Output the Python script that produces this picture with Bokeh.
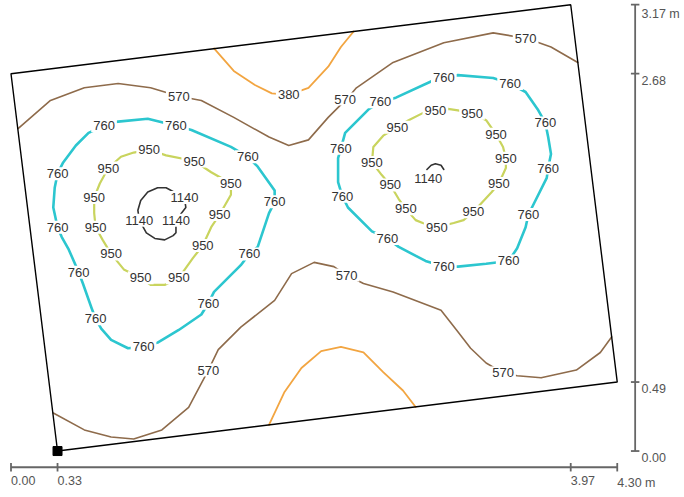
from bokeh.plotting import figure
from bokeh.models import Range1d, ColumnDataSource
from bokeh.embed import file_html
from bokeh.resources import INLINE
from bokeh.core.properties import value

# ---------------- data (metres) ----------------
room_x = [0.33, 4.30, 3.97, 0.00]
room_y = [0.00, 0.49, 3.17, 2.68]

x_ticks = [0.00, 0.33, 3.97, 4.30]
x_tick_labels = ["0.00", "0.33", "3.97", "4.30 m"]
y_ticks = [0.00, 0.49, 2.68, 3.17]
y_tick_labels = ["0.00", "0.49", "2.68", "3.17 m"]

# 380 isoline (two pieces)
c380a_x = [1.44, 1.58, 1.73, 1.85, 1.97, 2.11, 2.25, 2.34, 2.43]
c380a_y = [2.86, 2.70, 2.60, 2.54, 2.53, 2.58, 2.73, 2.87, 2.98]
c380b_x = [1.83, 1.94, 2.06, 2.20, 2.34, 2.50, 2.64, 2.78, 2.87]
c380b_y = [0.185, 0.42, 0.59, 0.71, 0.74, 0.70, 0.56, 0.43, 0.313]
lab380_x = [1.97]
lab380_y = [2.53]

# 570 isoline (two pieces)
c570a_x = [0.05, 0.28, 0.52, 0.76, 0.99, 1.19, 1.35, 1.58, 1.83, 1.97, 2.11, 2.25,
           2.39, 2.45, 2.71, 3.07, 3.42, 3.66, 3.83, 4.02]
c570a_y = [2.29, 2.49, 2.58, 2.61, 2.58, 2.52, 2.49, 2.37, 2.23, 2.17, 2.21, 2.37,
           2.51, 2.58, 2.76, 2.90, 2.97, 2.93, 2.87, 2.76]
c570b_x = [0.30, 0.52, 0.71, 0.87, 1.07, 1.26, 1.35, 1.40, 1.47, 1.63, 1.87, 1.99, 2.15,
           2.29, 2.38, 2.50, 2.71, 3.05, 3.16, 3.26, 3.37, 3.49, 3.59, 3.76, 4.01, 4.18, 4.26]
c570b_y = [0.27, 0.15, 0.10, 0.085, 0.15, 0.31, 0.48, 0.575, 0.72, 0.88, 1.07, 1.26, 1.34,
           1.31, 1.25, 1.19, 1.13, 1.00, 0.86, 0.73, 0.625, 0.555, 0.535, 0.52, 0.575, 0.70, 0.81]
lab570_x = [1.19, 2.37, 3.65, 1.40, 2.38, 3.49]
lab570_y = [2.52, 2.50, 2.93, 0.575, 1.25, 0.555]

# 760 isoline (two loops)
c760a_x = [0.66, 0.76, 0.97, 1.17, 1.28, 1.56, 1.68, 1.75, 1.87, 1.87, 1.83, 1.75, 1.69,
           1.63, 1.44, 1.40, 1.35, 1.19, 1.04, 0.94, 0.83, 0.71, 0.64, 0.60, 0.57, 0.51,
           0.48, 0.41, 0.36, 0.33, 0.30, 0.31, 0.33, 0.37, 0.46, 0.55, 0.66]
c760a_y = [2.31, 2.34, 2.36, 2.31, 2.28, 2.16, 2.09, 2.02, 1.85, 1.77, 1.69, 1.45, 1.40,
           1.32, 1.13, 1.05, 0.97, 0.86, 0.77, 0.74, 0.73, 0.79, 0.87, 0.94, 1.02, 1.19,
           1.27, 1.43, 1.52, 1.59, 1.73, 1.87, 1.97, 2.05, 2.17, 2.26, 2.31]
c760b_x = [2.62, 2.73, 2.99, 3.07, 3.17, 3.42, 3.54, 3.65, 3.74, 3.79, 3.81, 3.83, 3.81,
           3.80, 3.71, 3.67, 3.65, 3.59, 3.53, 3.37, 3.17, 3.07, 2.94, 2.75, 2.67, 2.56,
           2.39, 2.35, 2.32, 2.32, 2.34, 2.37, 2.54, 2.62]
c760b_y = [2.48, 2.51, 2.63, 2.65, 2.67, 2.65, 2.61, 2.55, 2.42, 2.33, 2.23, 2.11, 2.01,
           1.94, 1.76, 1.68, 1.59, 1.44, 1.35, 1.33, 1.31, 1.31, 1.35, 1.45, 1.51, 1.56,
           1.73, 1.81, 1.91, 2.08, 2.15, 2.26, 2.43, 2.48]
lab760_x = [0.66, 1.17, 1.68, 1.87, 1.69, 1.40, 0.94, 0.60, 0.48, 0.33, 0.33,
            2.62, 3.07, 3.54, 3.79, 3.81, 3.67, 3.53, 3.07, 2.67, 2.35, 2.34]
lab760_y = [2.31, 2.31, 2.09, 1.77, 1.40, 1.05, 0.74, 0.94, 1.27, 1.59, 1.97,
            2.48, 2.65, 2.61, 2.33, 2.01, 1.68, 1.35, 1.31, 1.51, 1.81, 2.15]

# 950 isoline (two loops)
c950a_x = [0.98, 1.10, 1.30, 1.42, 1.56, 1.56, 1.48, 1.42, 1.36, 1.29, 1.19, 1.09, 0.99,
           0.92, 0.80, 0.71, 0.65, 0.60, 0.59, 0.59, 0.63, 0.69, 0.78, 0.87, 0.98]
c950a_y = [2.14, 2.10, 2.06, 1.98, 1.90, 1.82, 1.68, 1.59, 1.46, 1.37, 1.23, 1.18, 1.18,
           1.23, 1.29, 1.40, 1.50, 1.59, 1.69, 1.80, 1.90, 2.01, 2.09, 2.12, 2.14]
c950b_x = [2.74, 2.82, 2.92, 3.01, 3.10, 3.17, 3.27, 3.37, 3.44, 3.49, 3.51, 3.51, 3.46,
           3.41, 3.28, 3.21, 3.14, 3.02, 2.92, 2.87, 2.80, 2.75, 2.69, 2.63, 2.56, 2.57,
           2.64, 2.74]
c950b_y = [2.30, 2.35, 2.40, 2.42, 2.43, 2.42, 2.40, 2.35, 2.25, 2.16, 2.08, 2.01, 1.90,
           1.84, 1.70, 1.64, 1.62, 1.59, 1.62, 1.64, 1.72, 1.79, 1.89, 1.96, 2.05, 2.16,
           2.24, 2.30]
lab950_x = [0.98, 1.30, 1.56, 1.48, 1.36, 1.19, 0.92, 0.71, 0.60, 0.59, 0.69,
            3.01, 3.27, 3.44, 3.51, 3.46, 3.28, 3.02, 2.80, 2.69, 2.56, 2.74]
lab950_y = [2.14, 2.06, 1.90, 1.68, 1.46, 1.23, 1.23, 1.40, 1.59, 1.80, 2.01,
            2.42, 2.40, 2.25, 2.08, 1.90, 1.70, 1.59, 1.72, 1.89, 2.05, 2.30]

# 1140 isoline
c1140a_x = [0.91, 0.90, 0.92, 0.97, 1.04, 1.10, 1.23, 1.24, 1.17, 1.17, 1.15, 1.09, 1.02, 0.96, 0.91]
c1140a_y = [1.64, 1.71, 1.78, 1.84, 1.87, 1.87, 1.80, 1.73, 1.64, 1.55, 1.53, 1.50, 1.51, 1.55, 1.64]
c1140b_x = [2.95, 2.98, 3.01, 3.05, 3.07]
c1140b_y = [2.00, 2.03, 2.04, 2.03, 2.00]
lab1140_x = [0.91, 1.23, 1.17, 2.96]
lab1140_y = [1.64, 1.80, 1.64, 1.935]

# ---------------- figure ----------------
p = figure(width=684, height=497, output_backend="svg", toolbar_location=None,
           x_range=Range1d(-0.0745, 4.777), y_range=Range1d(-0.330, 3.200),
           x_axis_type=None, y_axis_type=None, min_border=0,
           background_fill_color="white", border_fill_color="white")
p.outline_line_color = None
p.grid.visible = False

C380, C570, C760, C950, C1140 = "#F2A541", "#8E6B4B", "#2CC6CF", "#C9D45E", "#333333"

for xs, ys, col, w in [
    (c380a_x, c380a_y, C380, 1.8), (c380b_x, c380b_y, C380, 1.8),
    (c570a_x, c570a_y, C570, 1.6), (c570b_x, c570b_y, C570, 1.6),
    (c760a_x, c760a_y, C760, 2.6), (c760b_x, c760b_y, C760, 2.6),
    (c950a_x, c950a_y, C950, 2.2), (c950b_x, c950b_y, C950, 2.2),
    (c1140a_x, c1140a_y, C1140, 1.6), (c1140b_x, c1140b_y, C1140, 1.6),
]:
    p.line(xs, ys, line_color=col, line_width=w, line_join="round", line_cap="round")

# room outline
p.patch(room_x + room_x[:1], room_y + room_y[:1], fill_alpha=0, line_color="black", line_width=1.4)
p.scatter([room_x[0]], [room_y[0]], marker="square", size=9, color="black")

# contour labels
lab_x, lab_y, lab_t = [], [], []
for xs, ys, t in [(lab380_x, lab380_y, "380"), (lab570_x, lab570_y, "570"),
                  (lab760_x, lab760_y, "760"), (lab950_x, lab950_y, "950"),
                  (lab1140_x, lab1140_y, "1140")]:
    lab_x += xs
    lab_y += ys
    lab_t += [t] * len(xs)
src = ColumnDataSource(dict(x=lab_x, y=lab_y, text=lab_t))
p.text(x="x", y="y", text="text", source=src, text_font=value("Liberation Sans"),
       text_font_size="13px", text_color="#333333", text_align="center",
       text_baseline="middle", background_fill_color="white", padding=2)

# scale bars
AX_COL = "#666666"
HY = -0.115   # horizontal bar position (m)
VX = 4.427    # vertical bar position (m)
T = 0.03
p.line([x_ticks[0], x_ticks[-1]], [HY, HY], line_color=AX_COL, line_width=1.8)
p.segment(x0=x_ticks, y0=[HY - T] * len(x_ticks), x1=x_ticks, y1=[HY + T] * len(x_ticks),
          line_color=AX_COL, line_width=1.8)
p.text(x=x_ticks, y=[HY - 0.06] * len(x_ticks), text=x_tick_labels,
       text_font=value("Liberation Sans"), text_font_size="12.5px", text_color="#555555",
       text_align="left", text_baseline="top")
p.line([VX, VX], [y_ticks[0], y_ticks[-1]], line_color=AX_COL, line_width=1.8)
p.segment(x0=[VX - T] * len(y_ticks), y0=y_ticks, x1=[VX + T] * len(y_ticks), y1=y_ticks,
          line_color=AX_COL, line_width=1.8)
p.text(x=[VX + 0.045] * len(y_ticks), y=[v - 0.015 for v in y_ticks], text=y_tick_labels,
       text_font=value("Liberation Sans"), text_font_size="12.5px", text_color="#555555",
       text_align="left", text_baseline="top")

open("out.html", "w").write(file_html(p, INLINE))
